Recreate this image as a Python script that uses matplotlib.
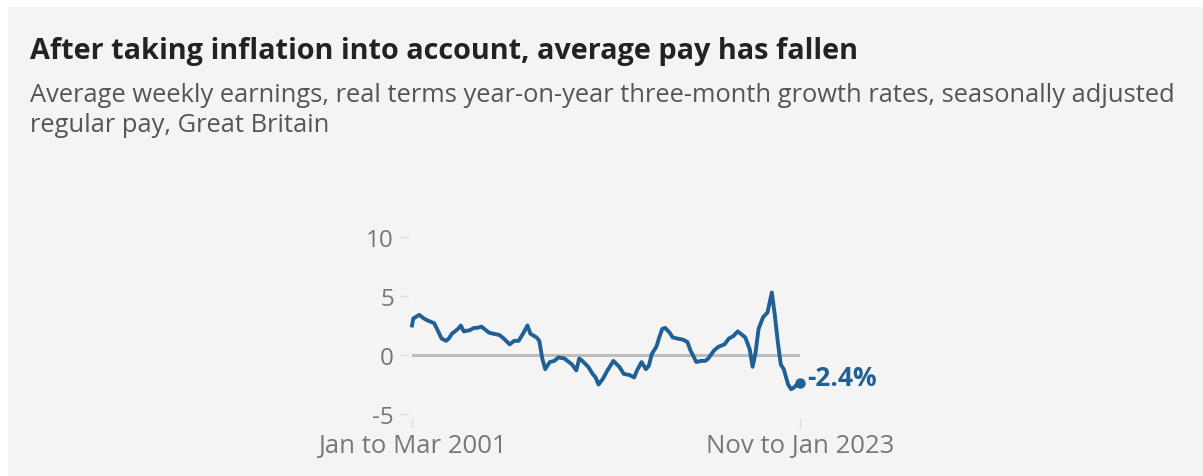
import matplotlib
matplotlib.use("Agg")
import matplotlib.pyplot as plt
import pandas as pd
from matplotlib.patches import Rectangle

# ---- data ----
months = [
    "2001-02", "2001-03", "2001-07", "2001-10", "2002-01", "2002-05", "2002-07", "2002-10",
    "2003-01", "2003-03", "2003-05", "2003-09", "2003-11", "2004-01", "2004-05", "2004-08",
    "2004-10", "2005-01", "2005-03", "2005-06", "2005-09", "2006-01", "2006-04", "2006-08",
    "2006-11", "2007-02", "2007-05", "2007-08", "2007-10", "2008-02", "2008-04", "2008-06",
    "2008-08", "2008-11", "2009-02", "2009-05", "2009-09", "2009-12", "2010-02", "2010-05",
    "2010-07", "2010-09", "2011-01", "2011-04", "2011-06", "2011-08", "2011-11", "2012-02",
    "2012-06", "2012-10", "2013-01", "2013-05", "2013-08", "2013-10", "2014-01", "2014-04",
    "2014-06", "2014-08", "2014-11", "2015-01", "2015-03", "2015-05", "2015-08", "2015-10",
    "2016-01", "2016-05", "2016-08", "2016-10", "2017-02", "2017-05", "2017-08", "2017-10",
    "2018-02", "2018-05", "2018-09", "2018-12", "2019-03", "2019-06", "2019-08", "2019-11",
    "2020-02", "2020-04", "2020-06", "2020-08", "2020-11", "2021-02", "2021-05", "2021-07",
    "2021-09", "2021-11", "2022-01", "2022-04", "2022-06", "2022-08", "2022-10", "2022-12",
]
growth = [
    2.5, 3.1, 3.4, 3.1, 2.9, 2.7, 2.2, 1.4,
    1.2, 1.4, 1.8, 2.2, 2.5, 2.0, 2.1, 2.3,
    2.3, 2.4, 2.2, 1.9, 1.8, 1.7, 1.4, 0.9,
    1.2, 1.2, 1.8, 2.5, 1.8, 1.5, 1.2, -0.3,
    -1.2, -0.6, -0.5, -0.2, -0.3, -0.6, -0.8, -1.3,
    -0.3, -0.5, -1.0, -1.6, -1.9, -2.5, -2.0, -1.3,
    -0.5, -1.0, -1.6, -1.7, -1.9, -1.3, -0.6, -1.2,
    -0.9, 0.1, 0.7, 1.5, 2.2, 2.3, 1.9, 1.5,
    1.4, 1.3, 1.1, 0.4, -0.6, -0.5, -0.5, -0.3,
    0.4, 0.7, 0.9, 1.4, 1.6, 2.0, 1.8, 1.5,
    0.5, -1.0, 0.2, 2.2, 3.2, 3.6, 5.3, 3.4,
    1.1, -0.8, -1.2, -2.5, -2.9, -2.75, -2.5, -2.4,
]
y_ticks = [-5, 0, 5, 10]
x_tick_labels = ["Jan to Mar 2001", "Nov to Jan 2023"]
last_label = "-2.4%"

title = "After taking inflation into account, average pay has fallen"
subtitle_lines = [
    "Average weekly earnings, real terms year-on-year three-month growth rates, seasonally adjusted",
    "regular pay, Great Britain",
]

# ---- figure ----
W, H = 1203, 477
fig = plt.figure(figsize=(W / 100, H / 100), dpi=100, facecolor="white")
fig.patches.append(Rectangle((8 / W, 0), 1 - 8 / W, 1 - 8 / H, transform=fig.transFigure,
                             facecolor="#f4f4f4", edgecolor="none", zorder=-10))

def fx(px):
    return px / W

def fy(py):
    return 1 - py / H

BLUE = "#206095"
FONT = ["Open Sans", "DejaVu Sans"]
TICK_GREY = "#777777"

ax = fig.add_axes([fx(412), fy(415), fx(800) - fx(412), fy(238) - fy(415)])
ax.patch.set_visible(False)
for s in ax.spines.values():
    s.set_visible(False)
ax.spines["left"].set_position(("outward", 3))
ax.spines["bottom"].set_position(("outward", 3))

dates = pd.to_datetime(months)
ax.axhline(0, color="#bdbdbd", lw=2.2, zorder=1)
ax.plot(dates, growth, color=BLUE, lw=2.8, solid_joinstyle="round", zorder=3, clip_on=False)
ax.plot(dates[-1:], growth[-1:], "o", color=BLUE, ms=6.5, zorder=4, clip_on=False)
ax.annotate(last_label, (dates[-1], growth[-1]), xytext=(5, 4), textcoords="offset points",
            va="center", ha="left", color=BLUE, fontsize=19, fontweight="bold", family=FONT)

ax.set_xlim(dates[0], dates[-1])
ax.set_ylim(-5, 10)
ax.set_yticks(y_ticks)
ax.set_yticklabels([str(v) for v in y_ticks])
ax.set_xticks([dates[0], dates[-1]])
ax.set_xticklabels(x_tick_labels)
for lab in ax.get_yticklabels():
    lab.set_family(FONT)
    lab.set_fontsize(17.5)
    lab.set_color(TICK_GREY)
for lab in ax.get_xticklabels():
    lab.set_family(FONT)
    lab.set_fontsize(18.5)
    lab.set_color(TICK_GREY)

ax.tick_params(axis="y", length=6, width=1, color="#dddddd", pad=4)
ax.tick_params(axis="x", length=7, width=1, color="#dddddd", pad=4)

fig.text(fx(30), fy(59), title, family=FONT, fontweight="bold", fontsize=20.8,
         color="#222222", va="baseline", ha="left")
for i, line in enumerate(subtitle_lines):
    fig.text(fx(30), fy(102 + 30 * i), line, family=FONT, fontsize=18.4,
             color="#555555", va="baseline", ha="left")

fig.savefig("out.png", dpi=100, facecolor=fig.get_facecolor())
